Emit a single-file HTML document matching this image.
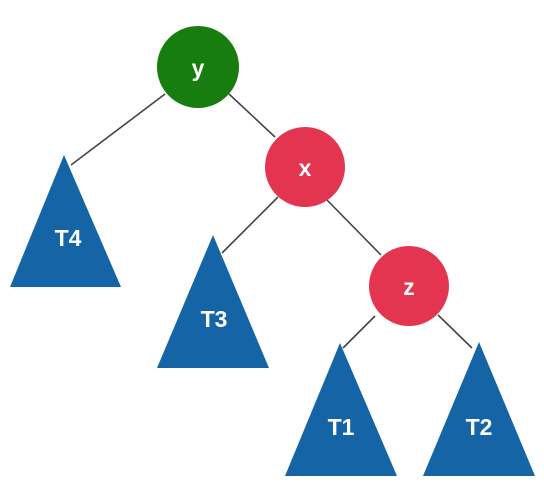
<!DOCTYPE html>
<html><head><style>html,body{margin:0;padding:0;background:#fff}svg{display:block}</style></head>
<body>
<svg width="544" height="503" viewBox="0 0 544 503" xmlns="http://www.w3.org/2000/svg">
<g stroke="#444" stroke-width="1.6">
<line x1="165" y1="94" x2="71" y2="165"/>
<line x1="229" y1="94" x2="275" y2="137"/>
<line x1="278" y1="197" x2="222" y2="253"/>
<line x1="327" y1="200" x2="381" y2="255"/>
<line x1="375" y1="316" x2="343" y2="348"/>
<line x1="438" y1="315" x2="472" y2="348"/>
</g>
<g fill="#1565a6">
<polygon points="64,155 121,287 10,287"/>
<polygon points="213,235 269,368 157,368"/>
<polygon points="340,343 397,476 285,476"/>
<polygon points="479,342 535,476 423,476"/>
</g>
<circle cx="198" cy="67" r="41" fill="#177d0e"/>
<circle cx="305" cy="167" r="40" fill="#e3354f"/>
<circle cx="409" cy="286" r="40" fill="#e3354f"/>
<g fill="#fff" font-family="Liberation Sans, sans-serif" font-weight="bold" font-size="23" text-anchor="middle">
<text x="198" y="76">y</text>
<text x="305" y="176">x</text>
<text x="409" y="295">z</text>
<text x="68" y="246">T4</text>
<text x="214" y="327">T3</text>
<text x="341" y="435">T1</text>
<text x="479" y="435">T2</text>
</g>
</svg>
</body></html>
